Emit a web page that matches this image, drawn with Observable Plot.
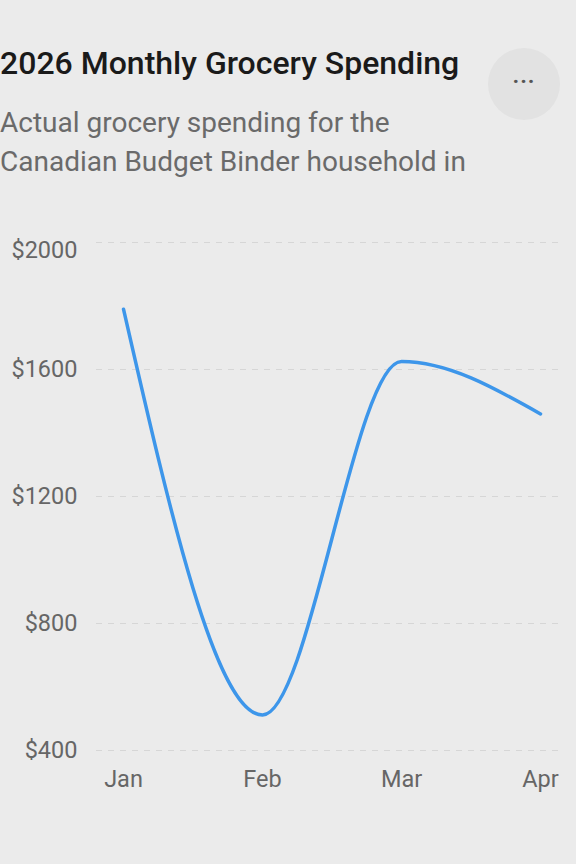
<!DOCTYPE html>
<html>
<head>
<meta charset="utf-8">
<script src="https://cdn.jsdelivr.net/npm/d3@7"></script>
<script src="https://cdn.jsdelivr.net/npm/@observablehq/plot@0.6"></script>
<style>
  html, body { margin: 0; padding: 0; background: #ebebeb; width: 576px; height: 864px; overflow: hidden; font-family: Roboto, "Noto Sans", sans-serif; }
  #header { position: relative; height: 200px; }
  #title { position: absolute; left: 0; top: 44px; font-size: 32px; line-height: 39px; font-weight: 500; color: #1a1a1a; white-space: nowrap; }
  #subtitle { position: absolute; left: 0; top: 103px; font-size: 28px; line-height: 39px; color: #6a6a6a; width: 490px; white-space: nowrap; }
  #menu { position: absolute; left: 488px; top: 48px; width: 72px; height: 72px; border-radius: 50%; background: #e2e2e2; color: #555; font-size: 22px; text-align: center; line-height: 68px; font-weight: bold; letter-spacing: 1px; }
  #chart svg { display: block; background: transparent; }
</style>
</head>
<body>
<div id="header">
  <div id="title">2026 Monthly Grocery Spending</div>
  <div id="subtitle">Actual grocery spending for the<br>Canadian Budget Binder household in</div>
  <div id="menu">&middot;&middot;&middot;</div>
</div>
<div id="chart"></div>
<script>
const months = ["Jan", "Feb", "Mar", "Apr"];
const spending = [1790, 512, 1625, 1460];
const yTicks = [400, 800, 1200, 1600, 2000];

const data = months.map((m, i) => ({month: m, value: spending[i]}));
const fmt = d => "$" + d;

const plot = Plot.plot({
  width: 576,
  height: 664,
  marginTop: 42,
  marginBottom: 114,
  marginLeft: 96,
  marginRight: 16,
  style: {background: "transparent", fontFamily: "Roboto, sans-serif"},
  x: {type: "point", domain: months, range: [122, 541], padding: 0},
  y: {domain: [400, 2000]},
  marks: [
    Plot.ruleY(yTicks, {stroke: "#d6d6d6", strokeWidth: 1.2, strokeDasharray: "6,6"}),
    Plot.axisY(yTicks.filter(d => d !== 2000), {tickSize: 0, tickPadding: 19, tickFormat: fmt, fontSize: 23.5, fill: "#666", label: null}),
    Plot.axisY([2000], {tickSize: 0, tickPadding: 19, tickFormat: fmt, fontSize: 23.5, fill: "#666", label: null, dy: 8}),
    Plot.axisX(months, {tickSize: 0, tickPadding: 20, fontSize: 23.5, fill: "#666", label: null}),
    Plot.line(data, {x: "month", y: "value", curve: "monotone-x", stroke: "#3d96ea", strokeWidth: 3.5, strokeLinecap: "round", strokeLinejoin: "round"})
  ]
});
document.getElementById("chart").appendChild(plot);
</script>
</body>
</html>
